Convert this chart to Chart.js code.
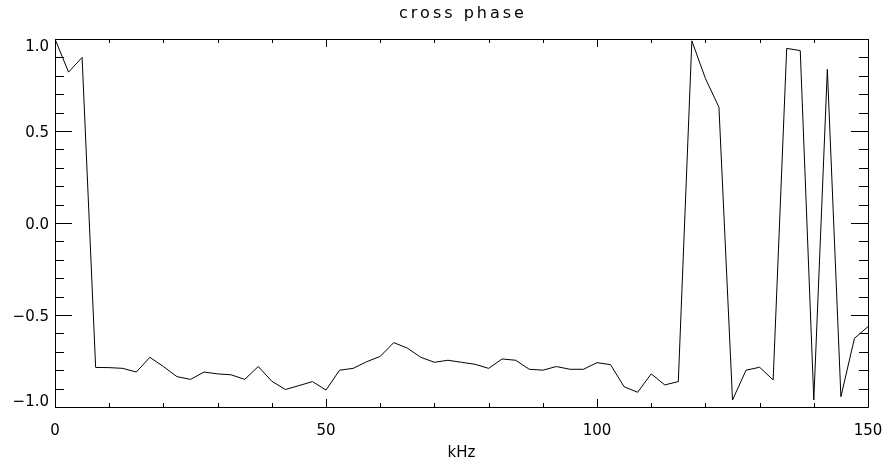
<!DOCTYPE html>
<html>
<head>
<meta charset="utf-8">
<script src="https://cdn.jsdelivr.net/npm/chart.js@4/dist/chart.umd.min.js"></script>
<style>
  html, body { margin: 0; padding: 0; background: #fff; }
  #wrap { width: 887px; height: 462px; }
</style>
</head>
<body>
<div id="wrap"><canvas id="chart" width="887" height="462"></canvas></div>
<script>
// tần số (kHz)
const freqKHz = [
  0, 2.5, 5, 7.5, 10, 12.5, 15, 17.5, 20, 22.5,
  25, 27.5, 30, 32.5, 35, 37.5, 40, 42.5, 45, 47.5,
  50, 52.5, 55, 57.5, 60, 62.5, 65, 67.5, 70, 72.5,
  75, 77.5, 80, 82.5, 85, 87.5, 90, 92.5, 95, 97.5,
  100, 102.5, 105, 107.5, 110, 112.5, 115, 117.5, 120, 122.5,
  125, 127.5, 130, 132.5, 135, 137.5, 140, 142.5, 145, 147.5,
  150
];

// cross phase values
const crossPhase = [
  1.00, 0.82, 0.90, -0.785, -0.786, -0.79, -0.81, -0.73, -0.78, -0.835,
  -0.85, -0.81, -0.82, -0.825, -0.85, -0.78, -0.86, -0.905, -0.884, -0.862,
  -0.908, -0.80, -0.79, -0.754, -0.725, -0.65, -0.68, -0.73, -0.757, -0.746,
  -0.757, -0.768, -0.79, -0.739, -0.746, -0.795, -0.80, -0.78, -0.795, -0.795,
  -0.759, -0.77, -0.89, -0.92, -0.82, -0.88, -0.862, 0.99, 0.786, 0.629,
  -0.962, -0.80, -0.784, -0.853, 0.949, 0.937, -0.962, 0.835, -0.944, -0.627,
  -0.563
];

// nhãn trục y
const yTickLabels = ["1.0", "0.5", "0.0", "\u22120.5", "\u22121.0"];
const yTickValues = [1.0, 0.5, 0.0, -0.5, -1.0];

const chartTitle = "cross phase";
const xAxisTitle = "kHz";

const FONT = "DejaVu Sans";
const INK = "#000";

// Plugin vẽ khung, vạch chia hướng vào trong, tiêu đề và nhãn trục y
const idlFrame = {
  id: "idlFrame",
  afterDraw(chart) {
    const { ctx, chartArea: a, scales: { x, y } } = chart;
    ctx.save();
    ctx.strokeStyle = INK;
    ctx.lineWidth = 1;
    ctx.beginPath();
    ctx.rect(Math.round(a.left) + 0.5, Math.round(a.top) + 0.5,
             Math.round(a.right - a.left), Math.round(a.bottom - a.top));

    // vạch trục x: chính mỗi 50, phụ mỗi 10
    for (let v = 0; v <= 150; v += 10) {
      const px = Math.round(x.getPixelForValue(v)) + 0.5;
      const len = v % 50 === 0 ? 8 : 4;
      ctx.moveTo(px, a.bottom); ctx.lineTo(px, a.bottom - len);
      ctx.moveTo(px, a.top); ctx.lineTo(px, a.top + len);
    }
    // vạch trục y: chính mỗi 0.5, phụ mỗi 0.1
    for (let k = -10; k <= 10; k++) {
      const py = Math.round(y.getPixelForValue(k / 10)) + 0.5;
      const len = k % 5 === 0 ? 17 : 9;
      ctx.moveTo(a.left, py); ctx.lineTo(a.left + len, py);
      ctx.moveTo(a.right, py); ctx.lineTo(a.right - len, py);
    }
    ctx.stroke();

    // nhãn trục y (giữ trong phạm vi trục như IDL)
    ctx.fillStyle = INK;
    ctx.font = "15px '" + FONT + "'";
    ctx.textAlign = "right";
    ctx.textBaseline = "middle";
    yTickValues.forEach((v, i) => {
      let py = y.getPixelForValue(v) + 2.5;
      py = Math.min(Math.max(py, a.top + 8), a.bottom - 5);
      ctx.fillText(yTickLabels[i], a.left - 6, py);
    });

    // tiêu đề, chữ giãn cách như font vector của IDL
    ctx.font = "16px '" + FONT + "'";
    ctx.textAlign = "center";
    ctx.letterSpacing = "3px";
    ctx.fillText(chartTitle, (a.left + a.right) / 2 + 1.5, 14);
    ctx.restore();
  }
};

new Chart(document.getElementById("chart"), {
  type: "line",
  data: {
    datasets: [{
      label: chartTitle,
      data: freqKHz.map((f, i) => ({ x: f, y: crossPhase[i] })),
      borderColor: INK,
      borderWidth: 1,
      pointRadius: 0,
      tension: 0,
      fill: false
    }]
  },
  options: {
    responsive: false,
    animation: false,
    devicePixelRatio: 1,
    layout: { padding: { top: 39, right: 19, bottom: 0, left: 0 } },
    plugins: {
      legend: { display: false },
      tooltip: { enabled: false },
      title: { display: false }
    },
    scales: {
      x: {
        type: "linear",
        min: 0,
        max: 150,
        afterFit: s => { s.height = 55; s.paddingLeft = 0; s.paddingRight = 0; },
        grid: { display: false, drawTicks: false },
        border: { display: false },
        ticks: {
          stepSize: 10,
          autoSkip: false,
          maxRotation: 0,
          padding: 15,
          color: INK,
          font: { family: FONT, size: 15 },
          callback: v => (v % 50 === 0 ? String(v) : "")
        },
        title: {
          display: true,
          text: xAxisTitle,
          color: INK,
          font: { family: FONT, size: 15 },
          padding: { top: 0, bottom: 0 }
        }
      },
      y: {
        min: -1,
        max: 1,
        afterFit: s => { s.width = 55; },
        grid: { display: false, drawTicks: false },
        border: { display: false },
        ticks: { display: false }
      }
    }
  },
  plugins: [idlFrame]
});
</script>
</body>
</html>
